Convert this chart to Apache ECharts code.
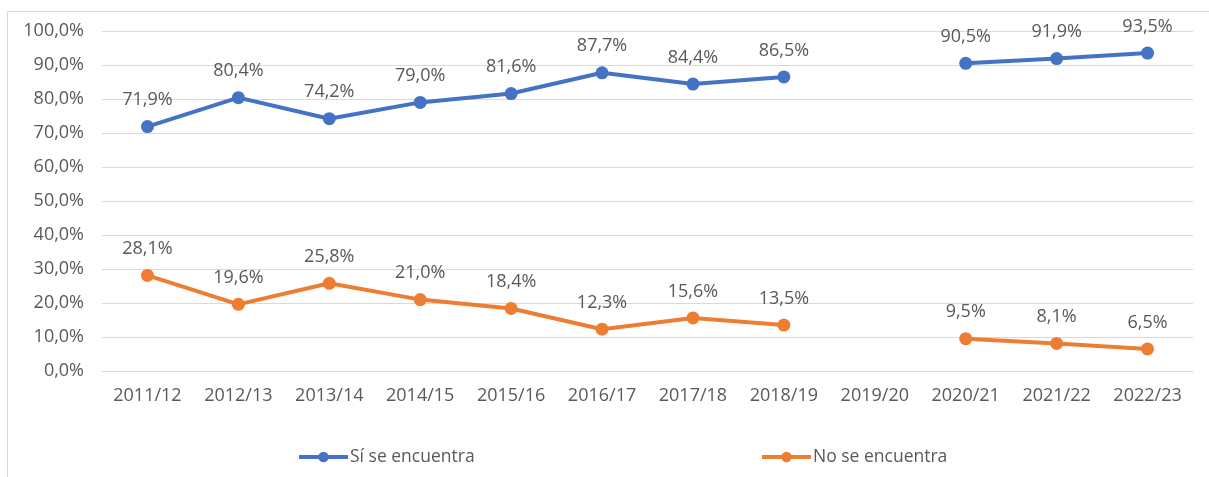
<!DOCTYPE html>
<html lang="es">
<head>
    <meta charset="UTF-8">
    <style>
        body { margin: 0; background: #fff; }
        #main { width: 1209px; height: 477px; }
    </style>
    <script src="https://cdn.jsdelivr.net/npm/echarts@6/dist/echarts.min.js"></script>
    <title>Sí / No se encuentra</title>
</head>
<body>
    <div id="main"></div>
    <script>
        var categories = ['2011/12', '2012/13', '2013/14', '2014/15', '2015/16', '2016/17',
            '2017/18', '2018/19', '2019/20', '2020/21', '2021/22', '2022/23'];
        var siValues = [71.9, 80.4, 74.2, 79.0, 81.6, 87.7, 84.4, 86.5, null, 90.5, 91.9, 93.5];
        var noValues = [28.1, 19.6, 25.8, 21.0, 18.4, 12.3, 15.6, 13.5, null, 9.5, 8.1, 6.5];
        var yTicks = [0, 10, 20, 30, 40, 50, 60, 70, 80, 90, 100];

        var fmt = function (v) { return v.toFixed(1).replace('.', ',') + '%'; };
        var font = '"Open Sans", "Noto Sans", sans-serif';
        var gray = '#595959';

        var myChart = echarts.init(document.getElementById('main'));
        var lineSeries = function (name, color, data) {
            return {
                name: name,
                type: 'line',
                data: data,
                connectNulls: false,
                symbol: 'circle',
                symbolSize: 13,
                lineStyle: { width: 4, color: color },
                itemStyle: { color: color },
                label: {
                    show: true,
                    position: 'top',
                    distance: 11,
                    color: gray,
                    fontFamily: font,
                    fontSize: 18,
                    formatter: function (p) { return fmt(p.value); }
                }
            };
        };
        var legendBase = {
            top: 443,
            itemWidth: 49,
            itemHeight: 13,
            lineStyle: { width: 4 },
            textStyle: { color: gray, fontFamily: font, fontSize: 17.5, padding: [0, 0, 0, -3] },
            itemGap: 4
        };

        var option = {
            animation: false,
            graphic: [{
                type: 'rect',
                shape: { x: 7.5, y: 11.5, width: 1220, height: 480 },
                style: { fill: 'none', stroke: '#d9d9d9', lineWidth: 1 },
                silent: true
            }],
            grid: { left: 102, right: 16, top: 31, bottom: 106 },
            legend: [
                Object.assign({ left: 292, data: ['Sí se encuentra'] }, legendBase),
                Object.assign({ left: 755, data: ['No se encuentra'] }, legendBase)
            ],
            xAxis: {
                type: 'category',
                data: categories,
                boundaryGap: true,
                axisLine: { lineStyle: { color: '#d9d9d9' } },
                axisTick: { show: false },
                axisLabel: { color: gray, fontFamily: font, fontSize: 18, margin: 16 }
            },
            yAxis: {
                type: 'value',
                min: yTicks[0],
                max: yTicks[yTicks.length - 1],
                interval: 10,
                axisLine: { show: false },
                axisTick: { show: false },
                splitLine: { lineStyle: { color: '#d9d9d9', width: 1 } },
                axisLabel: {
                    color: gray, fontFamily: font, fontSize: 18, margin: 18,
                    formatter: function (v) { return fmt(v); }
                }
            },
            series: [
                lineSeries('Sí se encuentra', '#4472C4', siValues),
                lineSeries('No se encuentra', '#ED7D31', noValues)
            ]
        };
        myChart.setOption(option);
    </script>
</body>
</html>
